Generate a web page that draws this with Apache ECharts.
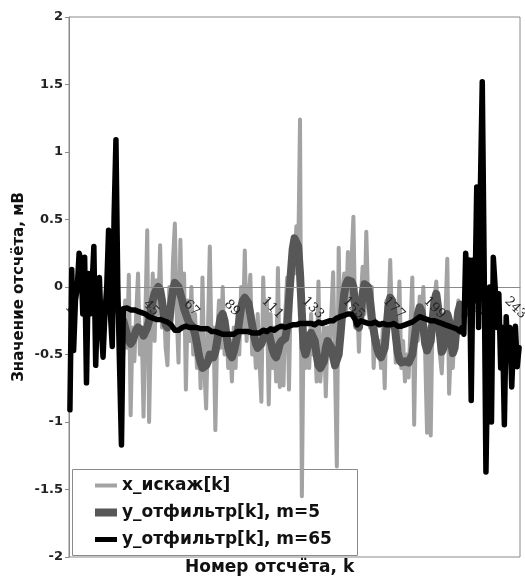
<!DOCTYPE html>
<html>
<head>
<meta charset="utf-8">
<script src="https://cdn.jsdelivr.net/npm/echarts@6/dist/echarts.min.js"></script>
<style>
  html, body { margin: 0; padding: 0; background: #fff; }
  #chart { width: 525px; height: 578px; }
</style>
</head>
<body>
<div id="chart"></div>
<script>
// Sample numbers k = 1..245
const categories = Array.from({ length: 245 }, (_, i) => String(i + 1));

// Distorted input signal x_искаж[k], mV (drawn for k = 30..215)
const xDistorted = [
  null, null, null, null, null, null, null, null, null, null,
  null, null, null, null, null, null, null, null, null, null,
  null, null, null, null, null, null, null, null, null, -0.50,
  -0.10, -0.45, 0.09, -0.95, -0.30, -0.55, -0.20, 0.10, -0.50, -0.30,
  -0.96, -0.20, 0.42, -1.00, -0.30, 0.10, -0.40, 0.05, -0.20, 0.31,
  -0.30, -0.10, -0.45, -0.58, 0.00, -0.30, 0.20, 0.47, -0.20, -0.56,
  0.35, -0.30, 0.10, -0.76, -0.10, -0.40, 0.00, -0.50, -0.20, -0.60,
  -0.30, -0.75, 0.07, -0.60, -0.90, -0.30, 0.30, -0.50, -0.30, -1.06,
  -0.35, -0.10, -0.45, 0.00, -0.50, -0.30, -0.60, -0.40, -0.70, -0.30,
  -0.60, -0.20, -0.50, 0.00, -0.30, 0.27, -0.40, -0.10, 0.09, -0.50,
  -0.30, -0.60, -0.20, -0.55, -0.85, 0.07, -0.40, -0.10, -0.87, -0.20,
  -0.60, -0.30, -0.70, 0.14, -0.74, -0.30, -0.73, -0.20, 0.07, -0.76,
  0.00, 0.30, 0.10, 0.45, 0.20, 1.24, -1.55, -0.20, -0.60, -0.40,
  -0.60, -0.20, -0.50, -0.30, -0.70, 0.04, -0.70, -0.50, -0.30, -0.81,
  -0.30, -0.50, -0.20, 0.11, -0.60, -1.33, 0.29, -0.40, -0.10, 0.10,
  -0.20, 0.26, -0.10, 0.20, 0.52, -0.30, -0.10, -0.48, -0.10, 0.15,
  -0.20, 0.41, -0.10, -0.30, 0.00, -0.60, -0.30, -0.50, -0.40, -0.60,
  -0.30, -0.75, -0.10, -0.20, 0.20, -0.30, -0.10, -0.56, -0.30, 0.04,
  -0.60, -0.40, -0.70, -0.50, -0.67, -0.30, 0.07, -1.02, -0.20, -0.40,
  -0.07, -0.30, 0.00, -0.50, -1.08, -0.30, -1.10, -0.20, -0.10, 0.04,
  0.04, -0.50, -0.64, -0.30, -0.20, 0.21, -0.79, -0.40, -0.60, -0.30,
  -0.40, -0.10, -0.30, -0.20, -0.35, null, null, null, null, null,
  null, null, null, null, null, null, null, null, null, null,
  null, null, null, null, null, null, null, null, null, null,
  null, null, null, null, null
];

// Moving-average output, window m = 5 (drawn for k = 30..215)
const yM5 = [
  null, null, null, null, null, null, null, null, null, null,
  null, null, null, null, null, null, null, null, null, null,
  null, null, null, null, null, null, null, null, null, -0.25,
  -0.30, -0.35, -0.40, -0.42, -0.40, -0.36, -0.32, -0.30, -0.30, -0.32,
  -0.36, -0.36, -0.30, -0.25, -0.18, -0.10, -0.05, -0.02, 0.00, -0.02,
  -0.10, -0.20, -0.28, -0.30, -0.25, -0.12, -0.02, 0.03, 0.04, 0.00,
  -0.05, -0.10, -0.16, -0.20, -0.24, -0.27, -0.28, -0.30, -0.35, -0.42,
  -0.50, -0.56, -0.60, -0.60, -0.58, -0.55, -0.50, -0.50, -0.52, -0.48,
  -0.40, -0.30, -0.22, -0.20, -0.25, -0.35, -0.45, -0.50, -0.52, -0.48,
  -0.42, -0.35, -0.25, -0.15, -0.10, -0.08, -0.08, -0.12, -0.20, -0.28,
  -0.36, -0.42, -0.45, -0.45, -0.42, -0.38, -0.34, -0.33, -0.34, -0.40,
  -0.46, -0.50, -0.52, -0.48, -0.42, -0.40, -0.39, -0.38, -0.30, -0.10,
  0.10, 0.28, 0.36, 0.37, 0.30, 0.10, -0.20, -0.45, -0.50, -0.45,
  -0.38, -0.34, -0.34, -0.40, -0.50, -0.58, -0.60, -0.60, -0.55, -0.45,
  -0.40, -0.40, -0.45, -0.52, -0.58, -0.59, -0.50, -0.35, -0.18, -0.05,
  0.02, 0.05, 0.05, 0.04, 0.00, -0.15, -0.28, -0.30, -0.20, -0.05,
  0.02, 0.03, 0.00, -0.10, -0.22, -0.32, -0.40, -0.46, -0.50, -0.52,
  -0.52, -0.45, -0.30, -0.15, -0.08, -0.10, -0.22, -0.36, -0.48, -0.54,
  -0.56, -0.56, -0.55, -0.56, -0.56, -0.55, -0.50, -0.40, -0.30, -0.20,
  -0.15, -0.18, -0.30, -0.42, -0.47, -0.47, -0.40, -0.25, -0.10, -0.05,
  -0.15, -0.35, -0.48, -0.45, -0.30, -0.20, -0.25, -0.40, -0.49, -0.45,
  -0.30, -0.18, -0.13, -0.15, -0.20, null, null, null, null, null,
  null, null, null, null, null, null, null, null, null, null,
  null, null, null, null, null, null, null, null, null, null,
  null, null, null, null, null
];

// Moving-average output, window m = 65
const yM65 = [
  -0.91, 0.13, -0.47, -0.10, 0.00, 0.25, 0.20, -0.20, 0.22, -0.71,
  0.10, -0.20, 0.00, 0.30, -0.58, -0.10, 0.07, -0.30, -0.52, -0.20,
  0.00, 0.42, -0.20, -0.44, 0.52, 1.09, 0.00, -0.60, -1.17, -0.16,
  -0.15, -0.155, -0.16, -0.17, -0.165, -0.17, -0.18, -0.18, -0.19, -0.19,
  -0.20, -0.20, -0.21, -0.22, -0.22, -0.23, -0.23, -0.24, -0.24, -0.24,
  -0.25, -0.25, -0.26, -0.26, -0.27, -0.28, -0.30, -0.32, -0.33, -0.32,
  -0.31, -0.30, -0.30, -0.29, -0.30, -0.30, -0.29, -0.30, -0.30, -0.30,
  -0.31, -0.31, -0.32, -0.31, -0.30, -0.31, -0.32, -0.33, -0.33, -0.33,
  -0.34, -0.34, -0.35, -0.35, -0.36, -0.35, -0.34, -0.35, -0.36, -0.35,
  -0.34, -0.33, -0.32, -0.33, -0.34, -0.33, -0.32, -0.33, -0.34, -0.34,
  -0.35, -0.34, -0.33, -0.34, -0.33, -0.32, -0.33, -0.33, -0.32, -0.31,
  -0.31, -0.32, -0.31, -0.30, -0.30, -0.29, -0.30, -0.30, -0.29, -0.29,
  -0.28, -0.28, -0.27, -0.28, -0.27, -0.27, -0.28, -0.27, -0.26, -0.27,
  -0.26, -0.27, -0.27, -0.28, -0.27, -0.26, -0.26, -0.27, -0.26, -0.26,
  -0.25, -0.25, -0.24, -0.25, -0.24, -0.23, -0.23, -0.22, -0.22, -0.21,
  -0.21, -0.20, -0.21, -0.20, -0.21, -0.24, -0.28, -0.27, -0.25, -0.25,
  -0.26, -0.26, -0.27, -0.26, -0.27, -0.27, -0.26, -0.27, -0.28, -0.27,
  -0.27, -0.28, -0.28, -0.27, -0.28, -0.28, -0.27, -0.28, -0.29, -0.30,
  -0.29, -0.29, -0.28, -0.28, -0.27, -0.27, -0.26, -0.25, -0.24, -0.23,
  -0.22, -0.22, -0.23, -0.24, -0.24, -0.25, -0.25, -0.24, -0.25, -0.25,
  -0.26, -0.26, -0.27, -0.27, -0.28, -0.28, -0.29, -0.30, -0.30, -0.31,
  -0.31, -0.32, -0.33, -0.30, -0.35, 0.25, 0.00, 0.20, -0.84, 0.20,
  -0.10, 0.74, -0.30, 0.74, 1.52, 0.20, -1.37, -0.50, 0.00, -1.00,
  0.22, 0.00, -0.30, -0.05, -0.60, -0.30, -1.02, -0.22, -0.50, -0.30,
  -0.74, -0.40, -0.29, -0.59, -0.45
];

const seriesNames = ['x_искаж[k]', 'y_отфильтр[k], m=5', 'y_отфильтр[k], m=65'];
const seriesColors = ['#a3a3a3', '#575757', '#000000'];
const seriesWidths = [4, 8, 5.5];
// Legend swatches: a horizontal band of the given thickness inside a 22x14 box
const legendIcons = [
  'path://M0,0L22,0M0,5L22,5L22,9L0,9ZM0,14L22,14',
  'path://M0,0L22,0M0,3L22,3L22,11L0,11ZM0,14L22,14',
  'path://M0,0L22,0M0,4.5L22,4.5L22,9.5L0,9.5ZM0,14L22,14'
];

// Plot box in pixels; the x axis is lifted to the zero level of the value axis
const plot = { left: 69, right: 5, top: 17, bottom: 21, height: 540 };
const yMin = -2, yMax = 2;
const zeroOffset = -plot.height * (0 - yMin) / (yMax - yMin);

// Legend frame
const legendBox = { x: 72, y: 469, width: 285, height: 86 };

const chart = echarts.init(document.getElementById('chart'), null, { renderer: 'canvas' });

const lineSeries = (i, data, z) => ({
  name: seriesNames[i],
  type: 'line',
  z: z,
  data: data,
  symbol: 'none',
  connectNulls: false,
  itemStyle: { color: seriesColors[i] },
  lineStyle: { color: seriesColors[i], width: seriesWidths[i], cap: 'round', join: 'round' },
  emphasis: { disabled: true },
  silent: true
});

chart.setOption({
  animation: false,
  backgroundColor: '#fff',
  grid: {
    left: plot.left, right: plot.right, top: plot.top, bottom: plot.bottom,
    outerBoundsMode: 'none', containLabel: false,
    show: true, borderColor: '#8a8a8a', borderWidth: 1, backgroundColor: 'transparent'
  },
  legend: {
    z: 1,
    data: seriesNames.map((name, i) => ({ name: name, icon: legendIcons[i] })),
    orient: 'vertical',
    left: legendBox.x, top: legendBox.y,
    padding: [8, 22, 9, 23],
    itemGap: 10,
    itemWidth: 22, itemHeight: 14,
    itemStyle: { borderWidth: 0 },
    textStyle: { fontFamily: 'DejaVu Sans', fontWeight: 'bold', fontSize: 17, color: '#111' },
    selectedMode: false
  },
  xAxis: {
    type: 'category',
    data: categories,
    z: 3,
    offset: zeroOffset,
    axisLine: { onZero: false, lineStyle: { color: '#8a8a8a', width: 1 } },
    axisTick: { interval: 0, length: 3, lineStyle: { color: '#8a8a8a' } },
    axisLabel: {
      interval: 21, rotate: -45, margin: 21,
      align: 'center', verticalAlign: 'middle',
      fontFamily: 'DejaVu Serif', fontSize: 13, color: '#222'
    },
    splitLine: { show: false }
  },
  yAxis: {
    type: 'value',
    min: yMin, max: yMax, interval: 0.5,
    name: 'Значение отсчёта, мВ',
    nameLocation: 'middle', nameGap: 42,
    nameMoveOverlap: false,
    nameTextStyle: { fontFamily: 'DejaVu Sans', fontWeight: 'bold', fontSize: 15, color: '#111' },
    axisLine: { show: true, lineStyle: { color: '#8a8a8a' } },
    axisTick: { show: true, length: 4, lineStyle: { color: '#8a8a8a' } },
    axisLabel: { margin: 6, fontFamily: 'DejaVu Sans', fontWeight: 'bold', fontSize: 13, color: '#222' },
    splitLine: { show: false }
  },
  graphic: [
    {
      type: 'rect',
      z: 0,
      silent: true,
      shape: { x: legendBox.x + 0.5, y: legendBox.y + 0.5, width: legendBox.width, height: legendBox.height },
      style: { fill: '#fff', stroke: '#8a8a8a', lineWidth: 1 }
    },
    {
      type: 'text',
      left: 185, top: 559,
      style: {
        text: 'Номер отсчёта, k',
        font: 'bold 17px "DejaVu Sans"',
        fill: '#111'
      }
    }
  ],
  series: [
    lineSeries(0, xDistorted, 2),
    lineSeries(1, yM5, 2),
    lineSeries(2, yM65, 4)
  ]
});
</script>
</body>
</html>
